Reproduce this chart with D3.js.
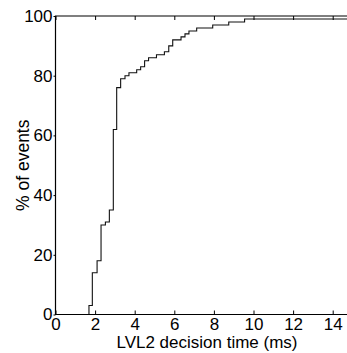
<!DOCTYPE html>
<html>
<head>
<meta charset="utf-8">
<script src="https://cdn.jsdelivr.net/npm/d3@7"></script>
<style>
  body { margin: 0; background: #fff; }
  svg { display: block; font-family: "Liberation Sans", Arial, sans-serif; }
</style>
</head>
<body>
<svg id="chart" width="347" height="353"></svg>
<script>
// step points of the cumulative curve: time (ms) and % of events reached at that time
const times = [1.69, 1.86, 2.1, 2.3, 2.52, 2.72, 2.92, 3.09, 3.29, 3.51, 3.71, 4.1, 4.3, 4.5, 4.7,
  5.1, 5.5, 5.72, 5.92, 6.34, 6.54, 6.74, 7.13, 7.94, 8.75, 9.55, 10.75];
const percents = [2, 3, 14, 18, 30, 31, 35, 62, 76, 79, 80, 81, 82, 83, 85,
  86, 87, 88, 90, 92, 93, 94, 95, 96, 97, 98, 99];
const xTicks = [0, 2, 4, 6, 8, 10, 12, 14];
const yTicks = [0, 20, 40, 60, 80, 100];

const margin = {top: 16, left: 55.5, bottom: 314.5, right: 352.5};

const svg = d3.select('#chart');

const x = d3.scaleLinear().domain([0, 15]).range([margin.left, margin.right]);
const y = d3.scaleLinear().domain([0, 100]).range([margin.bottom, margin.top]);

// stairs: start on the axis, end at the right edge
const pts = [[times[0], 0]];
times.forEach((t, i) => pts.push([t, percents[i]]));
pts.push([15, percents[percents.length - 1]]);

const line = d3.line()
  .curve(d3.curveStepBefore)
  .x(d => x(d[0]))
  .y(d => y(d[1]));

svg.append('path')
  .attr('d', line(pts))
  .attr('fill', 'none')
  .attr('stroke', '#111')
  .attr('stroke-width', 1.1);

// box lines
svg.append('path')
  .attr('d', `M${margin.left},${margin.top}H${margin.right}V${margin.bottom}H${margin.left}Z`)
  .attr('fill', 'none')
  .attr('stroke', '#000')
  .attr('stroke-width', 1.2);

// bottom axis, ticks pointing inward
const xAxis = svg.append('g')
  .attr('transform', `translate(0,${margin.bottom})`)
  .call(d3.axisBottom(x).tickValues(xTicks).tickSizeInner(-4).tickSizeOuter(0).tickPadding(3));
xAxis.select('.domain').remove();
xAxis.selectAll('text').attr('font-size', 17).attr('fill', '#000').attr('font-family', null);

// top axis ticks
svg.append('g')
  .attr('transform', `translate(0,${margin.top})`)
  .call(d3.axisTop(x).tickValues(xTicks).tickSizeInner(-4).tickSizeOuter(0).tickFormat(''))
  .select('.domain').remove();

// left axis
const yAxis = svg.append('g')
  .attr('transform', `translate(${margin.left},0)`)
  .call(d3.axisLeft(y).tickValues(yTicks).tickSizeInner(2).tickSizeOuter(0).tickPadding(1));
yAxis.select('.domain').remove();
yAxis.selectAll('text').attr('font-size', 17).attr('fill', '#000').attr('font-family', null);

svg.append('text')
  .attr('x', 207)
  .attr('y', 348)
  .attr('text-anchor', 'middle')
  .attr('font-size', 17)
  .text('LVL2 decision time (ms)');

svg.append('text')
  .attr('transform', `translate(29,${(margin.top + margin.bottom) / 2}) rotate(-90)`)
  .attr('text-anchor', 'middle')
  .attr('font-size', 17.5)
  .text('% of events');
</script>
</body>
</html>
